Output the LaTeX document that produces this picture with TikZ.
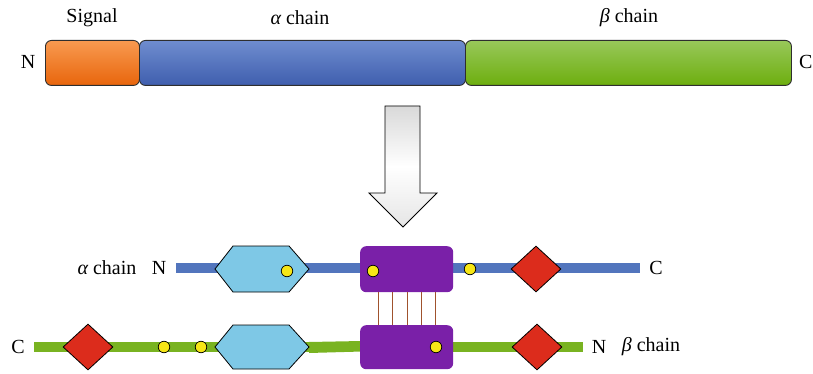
\documentclass[tikz,border=0pt]{standalone}
\usepackage{fontspec}
\setmainfont{Liberation Serif}
\usepackage{tikz}
\usetikzlibrary{shapes.geometric}
\definecolor{sigtop}{HTML}{F89A50}
\definecolor{sigbot}{HTML}{E8650C}
\definecolor{alphatop}{HTML}{6F8DCF}
\definecolor{alphabot}{HTML}{3F5EAE}
\definecolor{betatop}{HTML}{98C85A}
\definecolor{betabot}{HTML}{6DAE0E}
\definecolor{alphaline}{HTML}{5275BD}
\definecolor{betaline}{HTML}{79B321}
\definecolor{hexfill}{HTML}{7EC8E6}
\definecolor{purp}{HTML}{7A20A8}
\definecolor{redd}{HTML}{DC2C1C}
\definecolor{yell}{HTML}{F6E616}
\definecolor{bond}{HTML}{A0522D}
\definecolor{edge}{HTML}{2E2E2E}
\newcommand{\galpha}{{\itshape α}}
\newcommand{\gbeta}{{\itshape β}}
\tikzset{
  segbox/.style={draw=edge, line width=0.9pt, rounded corners=6pt},
  lbl/.style={font=\fontsize{20}{23}\selectfont, inner sep=0pt},
  chainbar/.style={line width=10pt},
  hexa/.style={draw=black, fill=hexfill, line width=0.8pt},
  diam/.style={diamond, draw=black, fill=redd, line width=0.8pt, minimum width=50pt, minimum height=46pt, inner sep=0pt},
  dot/.style={circle, draw=black, fill=yell, line width=0.7pt, minimum size=11.5pt, inner sep=0pt},
  pdomain/.style={fill=purp, rounded corners=6pt},
  bondline/.style={draw=bond, line width=1pt}
}
\begin{document}
\begin{tikzpicture}[x=1pt, y=-1pt]
\useasboundingbox (0,0) rectangle (813,374);

% precursor polypeptide
\node[segbox, top color=sigtop, bottom color=sigbot, minimum width=94pt, minimum height=45pt, anchor=north west] (sig) at (45,40) {};
\node[segbox, top color=alphatop, bottom color=alphabot, minimum width=326pt, minimum height=45pt, anchor=north west] (alp) at (139,40) {};
\node[segbox, top color=betatop, bottom color=betabot, minimum width=326pt, minimum height=45pt, anchor=north west] (bet) at (465,40) {};
\node[lbl] (sigl) at (92,18) {Signal};
\node[lbl] (alpl) at (300,18) {\galpha{} chain};
\node[lbl] (betl) at (629,18) {\gbeta{} chain};
\node[lbl] (nt) at (28,62) {N};
\node[lbl, anchor=west] (ct) at (799,62) {C};

% processing arrow
\draw[draw=black, line width=0.9pt, top color=gray!30, bottom color=gray!20, middle color=white]
  (385,106) -- (420,106) -- (420,193) -- (437,193) -- (403,227) -- (369,193) -- (385,193) -- cycle;

% alpha chain (upper)
\coordinate (aS) at (176,268);
\coordinate (aE) at (640,268);
\draw[alphaline, chainbar] (aS) -- (aE);
\draw[hexa] (215,269) -- (233,246) -- (289,246) -- (309,269) -- (289,292) -- (233,292) -- cycle;
\node[pdomain, minimum width=93pt, minimum height=46pt, anchor=north west] (pa) at (360,246) {};
\node[dot] (d1) at (287,271) {};
\node[dot] (d2) at (373,271) {};
\node[dot] (d3) at (470,269) {};
\node[diam] (ra) at (536,269) {};
\node[lbl] (alab) at (107,268) {\galpha{} chain};
\node[lbl] (an) at (159,268) {N};
\node[lbl] (ac) at (656,268) {C};

% beta chain (lower)
\coordinate (bS) at (34,347);
\coordinate (bE) at (583,347);
\draw[betaline, chainbar] (bS) -- (309,347);
\fill[betaline] (309,342) -- (362,341) -- (362,351.5) -- (309,353) -- cycle;
\draw[betaline, chainbar] (453,347) -- (bE);
\node[pdomain, minimum width=93pt, minimum height=44pt, anchor=north west] (pb) at (360,325) {};
\draw[hexa] (215,347) -- (233,325) -- (289,325) -- (309,347) -- (289,369) -- (233,369) -- cycle;
\node[diam] (rb1) at (88,347) {};
\node[diam] (rb2) at (537,347) {};
\node[dot] (d4) at (164,347) {};
\node[dot] (d5) at (201,347) {};
\node[dot] (d6) at (436,347) {};
\node[lbl] (bc) at (18,347) {C};
\node[lbl] (bn) at (599,347) {N};
\node[lbl] (blab) at (651,347) {\gbeta{} chain};

% disulfide bonds between the two chains
\foreach \x in {378,392,407,421,435}
  \draw[bondline] (\x,292) -- (\x,325);
\end{tikzpicture}
\end{document}
